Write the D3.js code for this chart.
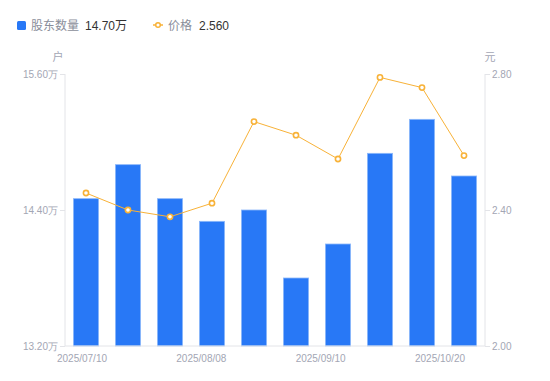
<!DOCTYPE html>
<html>
<head>
<meta charset="utf-8">
<script src="https://cdn.jsdelivr.net/npm/d3@7"></script>
<style>
  body { margin: 0; background: #fff; }
  svg { font-family: "Liberation Sans", Arial, "Noto Sans CJK SC", sans-serif; }
</style>
</head>
<body>
<script>
// data
const dates = ["2025/07/10", "2025/07/20", "2025/07/31", "2025/08/08", "2025/08/20",
               "2025/08/31", "2025/09/10", "2025/09/19", "2025/09/30", "2025/10/20"];
const holders = [14.50, 14.80, 14.50, 14.30, 14.40, 13.80, 14.10, 14.90, 15.20, 14.70]; // 万户
const prices = [2.45, 2.40, 2.38, 2.42, 2.66, 2.62, 2.55, 2.79, 2.76, 2.56]; // 元
const holderTicks = [13.20, 14.40, 15.60];
const priceTicks = [2.00, 2.40, 2.80];
const dateLabels = ["2025/07/10", "2025/08/08", "2025/09/10", "2025/10/20"];

var w = 550, h = 381;
var pLeft = 65, pRight = 485, pTop = 74, pBottom = 346;
var blue = "#2878f6", orange = "#f8b238", grey = "#a3a6b4", axisGrey = "#e3e4e8";

var svg = d3.select("body").append("svg")
  .attr("width", w)
  .attr("height", h);

var x = d3.scaleBand()
  .domain(dates)
  .range([pLeft, pRight])
  .paddingInner(0.4)
  .paddingOuter(0.2);

var yL = d3.scaleLinear().domain([13.2, 15.6]).range([pBottom, pTop]);
var yR = d3.scaleLinear().domain([2.0, 2.8]).range([pBottom, pTop]);

// bars
svg.selectAll("rect.bar")
  .data(holders)
  .enter().append("rect")
  .attr("class", "bar")
  .attr("x", (d, i) => x(dates[i]))
  .attr("y", d => yL(d))
  .attr("width", x.bandwidth())
  .attr("height", d => pBottom - yL(d))
  .attr("fill", blue)
  .attr("stroke", "#8db8fa")
  .attr("stroke-width", 0.8);

// left axis
var axL = svg.append("g")
  .attr("transform", "translate(" + pLeft + ",0)")
  .call(d3.axisLeft(yL).tickValues(holderTicks).tickSize(5).tickPadding(2)
    .tickFormat(d => d3.format(".2f")(d) + "万"));

// right axis
var axR = svg.append("g")
  .attr("transform", "translate(" + pRight + ",0)")
  .call(d3.axisRight(yR).tickValues(priceTicks).tickSize(5).tickPadding(2)
    .tickFormat(d3.format(".2f")));

[axL, axR].forEach(function(g) {
  g.select(".domain").attr("stroke", axisGrey).attr("d", "M0," + pTop + "V" + pBottom);
  g.selectAll(".tick line").attr("stroke", axisGrey);
  g.selectAll(".tick text").attr("fill", grey).attr("font-size", 10);
});

// bottom line
svg.append("line")
  .attr("x1", pLeft).attr("x2", pRight)
  .attr("y1", pBottom).attr("y2", pBottom)
  .attr("stroke", axisGrey);

// date labels
var xl = d3.scalePoint().domain(dateLabels).range([82, 440]);
svg.selectAll("text.date")
  .data(dateLabels)
  .enter().append("text")
  .attr("class", "date")
  .attr("x", d => xl(d))
  .attr("y", 362)
  .attr("text-anchor", "middle")
  .attr("font-size", 10)
  .attr("fill", grey)
  .text(d => d);

// units
svg.append("text").attr("x", 58).attr("y", 61).attr("text-anchor", "middle")
  .attr("font-size", 11).attr("fill", grey).text("户");
svg.append("text").attr("x", 490).attr("y", 61).attr("text-anchor", "middle")
  .attr("font-size", 11).attr("fill", grey).text("元");

// price line
var line = d3.line()
  .x((d, i) => x(dates[i]) + x.bandwidth() / 2)
  .y(d => yR(d));

svg.append("path")
  .datum(prices)
  .attr("d", line)
  .attr("fill", "none")
  .attr("stroke", orange)
  .attr("stroke-width", 1);

svg.selectAll("circle.pt")
  .data(prices)
  .enter().append("circle")
  .attr("class", "pt")
  .attr("cx", (d, i) => x(dates[i]) + x.bandwidth() / 2)
  .attr("cy", d => yR(d))
  .attr("r", 2.6)
  .attr("fill", "#fff")
  .attr("stroke", orange)
  .attr("stroke-width", 1.6);

// legend
var lg = svg.append("g").attr("font-size", 12);
lg.append("rect").attr("x", 17).attr("y", 21).attr("width", 9).attr("height", 9)
  .attr("rx", 1.5).attr("fill", blue);
lg.append("text").attr("x", 31).attr("y", 29.5).attr("fill", "#8a8e9a").text("股东数量");
lg.append("text").attr("x", 85).attr("y", 29.5).attr("fill", "#333").text(d3.format(".2f")(holders[holders.length - 1]) + "万");
lg.append("line").attr("x1", 153).attr("x2", 163).attr("y1", 25).attr("y2", 25)
  .attr("stroke", orange).attr("stroke-width", 1.5);
lg.append("circle").attr("cx", 158).attr("cy", 25).attr("r", 2.3)
  .attr("fill", "#fff").attr("stroke", orange).attr("stroke-width", 1.5);
lg.append("text").attr("x", 168).attr("y", 29.5).attr("fill", "#8a8e9a").text("价格");
lg.append("text").attr("x", 199).attr("y", 29.5).attr("fill", "#333").text(d3.format(".3f")(prices[prices.length - 1]));
</script>
</body>
</html>
